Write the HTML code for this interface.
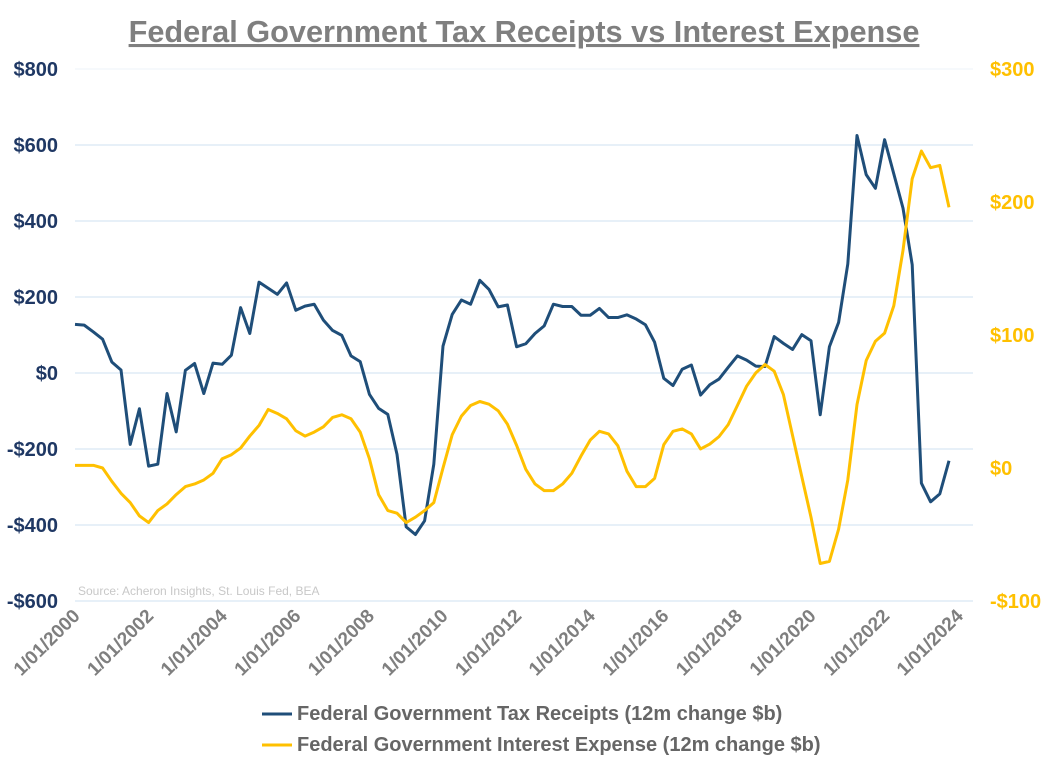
<!DOCTYPE html>
<html><head><meta charset="utf-8"><style>
body{margin:0;background:#fff;}
svg{display:block;font-family:"Liberation Sans",sans-serif;}
</style></head><body>
<svg id="chart" width="1052" height="771">
<text x="524" y="42" text-anchor="middle" font-size="30.7" font-weight="bold" fill="#7f7f7f" text-decoration="underline">Federal Government Tax Receipts vs Interest Expense</text>
<text x="78" y="595" font-size="12" fill="#c8c8c8">Source: Acheron Insights, St. Louis Fed, BEA</text>
<g id="grid"></g><g id="axes"></g><g id="series"></g>
<g>
<line x1="262" y1="714" x2="292" y2="714" stroke="#1f4e79" stroke-width="3"/>
<text x="297" y="720" font-size="20" font-weight="bold" fill="#666666">Federal Government Tax Receipts (12m change $b)</text>
<line x1="262" y1="745" x2="292" y2="745" stroke="#ffc000" stroke-width="3"/>
<text x="297" y="751" font-size="20" font-weight="bold" fill="#666666">Federal Government Interest Expense (12m change $b)</text>
</g>
</svg>
<script>
const taxReceipts=[128,126,108,89,29,8,-188,-94,-245,-240,-54,-155,7,25,-54,26,23,47,172,104,239,223,207,237,165,176,181,139,112,99,45,30,-56,-93,-109,-214,-405,-425,-389,-240,71,154,192,181,244,220,174,179,69,77,104,124,181,175,175,152,152,170,146,146,153,142,127,81,-14,-33,10,21,-58,-31,-16,15,45,34,18,17,96,78,62,101,85,-110,69,133,287,625,522,486,614,524,434,285,-290,-339,-318,-231];
const interestExpense=[2,2,2,0,-10,-19,-26,-36,-41,-32,-27,-20,-14,-12,-9,-4,7,10,15,24,32,44,41,37,28,24,27,31,38,40,37,27,7,-20,-32,-34,-41,-37,-32,-26,0,25,39,47,50,48,43,33,17,-1,-12,-17,-17,-12,-4,9,21,27.6,25.6,16.8,-2.5,-14,-14,-7.8,17.6,27.6,29.4,25.6,14.3,18,23.6,32.6,47,61.5,71.5,77.8,72.8,55.2,24.3,-6.5,-37,-71.8,-70.2,-46,-9,47.7,80.8,95.3,101.4,122,163.6,217.5,238.3,225.8,227.5,196];
const leftTicks=[800,600,400,200,0,-200,-400,-600];
const leftTickLabels=["$800","$600","$400","$200","$0","-$200","-$400","-$600"];
const rightTicks=[300,200,100,0,-100];
const rightTickLabels=["$300","$200","$100","$0","-$100"];
const xTickYears=[2000,2002,2004,2006,2008,2010,2012,2014,2016,2018,2020,2022,2024];

const NS="http://www.w3.org/2000/svg";
const top_=69,bot=601,x0=75,step=9.2,plotR=973;
const yL=v=>top_+(800-v)/1400*(bot-top_);
const yR=v=>top_+(300-v)/400*(bot-top_);
const xQ=i=>x0+i*step;
const xYear=y=>x0+(y-2000)*4*step;
function mk(tag,attrs,parent){const e=document.createElementNS(NS,tag);for(const k in attrs)e.setAttribute(k,attrs[k]);parent.appendChild(e);return e;}
const grid=document.getElementById('grid'),axes=document.getElementById('axes'),ser=document.getElementById('series');
leftTicks.forEach((v,i)=>{
  const g=mk('line',{x1:75,x2:plotR,y1:yL(v),y2:yL(v),stroke:i==0?'#eef3f9':'#cfe0f2','stroke-width':1},grid);
  
  
  const t=mk('text',{x:58,y:yL(v)+7,'text-anchor':'end','font-size':20,'font-weight':'bold',fill:'#1f3864'},axes);
  t.textContent=leftTickLabels[i];
  
  
});
rightTicks.forEach((v,i)=>{
  const t=mk('text',{x:990,y:yR(v)+7,'font-size':20,'font-weight':'bold',fill:'#ffc000'},axes);
  t.textContent=rightTickLabels[i];
  
  
});
xTickYears.forEach(y=>{
  const x=xYear(y)+6;
  const t=mk('text',{x:x,y:617,'text-anchor':'end','font-size':19,'font-weight':'bold',fill:'#7f7f7f',transform:`rotate(-45 ${x} 617)`},axes);
  t.textContent='1/01/'+y;
  
  
});
const pTax=mk('polyline',{points:taxReceipts.map((v,i)=>xQ(i)+','+yL(v)).join(' '),fill:'none',stroke:'#1f4e79','stroke-width':3,'stroke-linejoin':'round'},ser);


const pInt=mk('polyline',{points:interestExpense.map((v,i)=>xQ(i)+','+yR(v)).join(' '),fill:'none',stroke:'#ffc000','stroke-width':3,'stroke-linejoin':'round'},ser);


</script>
</body></html>
